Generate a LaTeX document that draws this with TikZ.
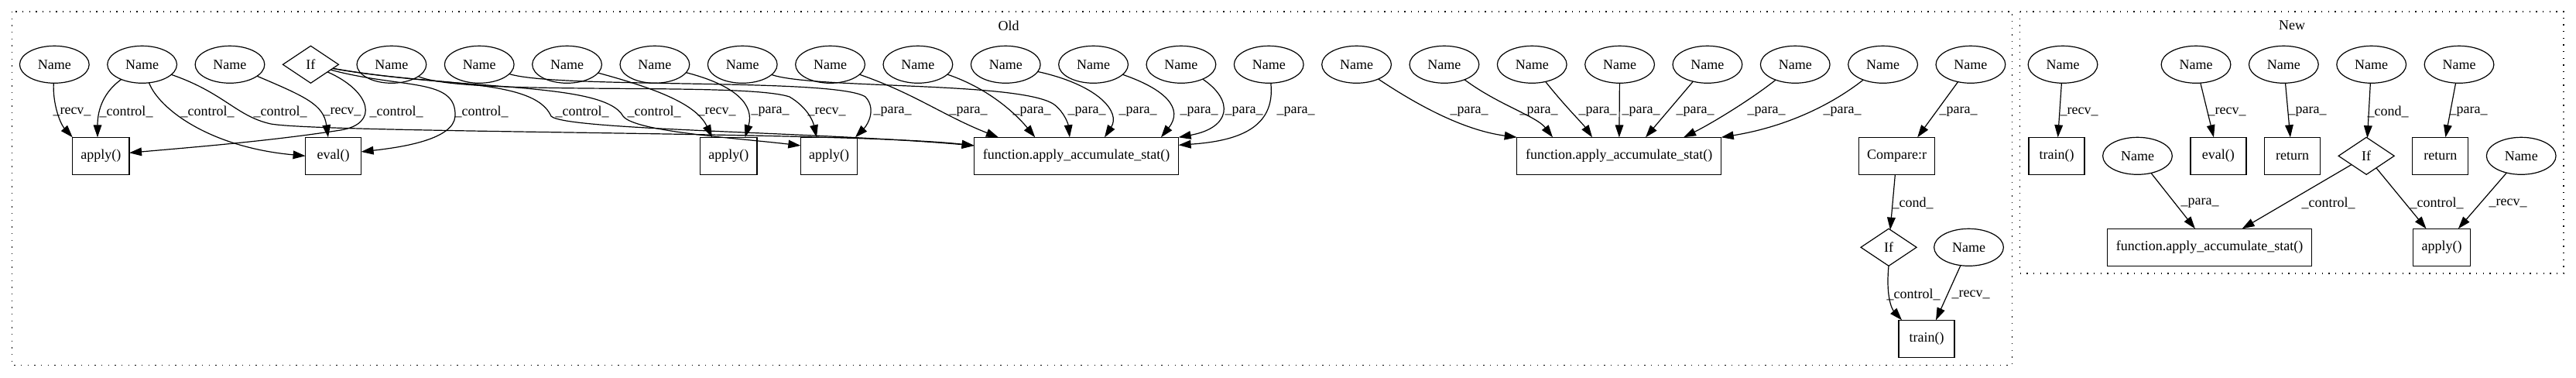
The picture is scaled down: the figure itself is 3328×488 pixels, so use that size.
\documentclass[tikz,border=0pt]{standalone}
\usepackage{fontspec}
\setmainfont{Liberation Serif}
\usetikzlibrary{positioning, arrows.meta, shapes.geometric}

\begin{document}
\begin{tikzpicture}
    [
        x=0.75pt, y=-0.75pt, % pixel grid, y runs down
        node distance=17.7pt and 17.7pt,
        font=\fontsize{13.5pt}{16pt}\selectfont,
        namenode/.style={draw, ellipse, minimum width=67.3pt, minimum height=36pt, inner sep=0pt, outer sep=0pt, line width=0.9pt},
        callbox/.style={draw, rectangle, minimum width=54pt, minimum height=36pt, inner xsep=8pt, inner ysep=0pt, outer sep=0pt, line width=0.9pt},
        funcbox/.style={callbox, minimum width=198pt},
        ifnode/.style={draw, diamond, minimum width=54pt, minimum height=36pt, inner sep=0pt, outer sep=0pt, line width=0.9pt},
        flow/.style={-{Triangle[length=12pt, width=8pt]}, line width=0.9pt},
        edgelabel/.style={inner sep=0pt},
        cluster/.style={dash pattern=on 1pt off 5.5pt, line width=0.9pt}
    ]
        \useasboundingbox (0,0) rectangle (3328,488);
        % =========================================================================
        % CLUSTERS
        % =========================================================================
        \draw [cluster] (15.6,15) rectangle (2599.6,471.7);
        \draw [cluster] (2609.6,15) rectangle (3312,353);
        \node (old) at (1303,33) {Old};
        \node (new) at (2961,33) {New};

        % =========================================================================
        % NODES
        % =========================================================================
        % --- Old: top row ---
        \node [namenode] (name1) at (70.3,83.3) {Name};
        \node [namenode, right=of name1] (name2) {Name};
        \node [namenode, right=of name2] (name3) {Name};
        \node [ifnode, right=of name3] (if1) {If};
        \node [namenode, right=of if1] (name4) {Name};
        \node [namenode, right=of name4] (name5) {Name};
        \node [namenode, right=of name5] (name6) {Name};
        \node [namenode, right=of name6] (name7) {Name};
        \node [namenode, right=of name7] (name8) {Name};
        \node [namenode, right=of name8] (name9) {Name};
        \node [namenode, right=of name9] (name10) {Name};
        \node [namenode, right=of name10] (name11) {Name};
        \node [namenode, right=of name11] (name12) {Name};
        \node [namenode, right=of name12] (name13) {Name};
        \node [namenode, right=of name13] (name14) {Name};
        \node [namenode, right=of name14] (name15) {Name};
        \node [namenode, right=of name15] (name16) {Name};
        \node [namenode, right=of name16] (name17) {Name};
        \node [namenode, right=of name17] (name18) {Name};
        \node [namenode, right=of name18] (name19) {Name};
        \node [namenode, right=of name19] (name20) {Name};
        \node [namenode, right=of name20] (name21) {Name};
        \node [namenode, right=of name21] (name22) {Name};
        % --- Old: calls ---
        \node [callbox] (apply1) at (130.4,201.3) {apply()};
        \node [callbox] (eval1) at (430.6,201.3) {eval()};
        \node [callbox] (apply2) at (941.3,201.3) {apply()};
        \node [callbox] (apply3) at (1071,201.3) {apply()};
        \node [funcbox] (func1) at (1390.6,201.3) {function.apply\_accumulate\_stat()};
        \node [funcbox] (func2) at (2091.7,201.3) {function.apply\_accumulate\_stat()};
        \node [callbox] (cmp1) at (2450.5,201.3) {Compare:r};
        % --- Old: lower part ---
        \node [ifnode] (if2) at (2440,319.3) {If};
        \node [namenode] (name23) at (2543.5,319.3) {Name};
        \node [callbox] (train1) at (2489,437.3) {train()};
        % --- New: top row ---
        \node [namenode] (name24) at (2665,83.3) {Name};
        \node [namenode] (name25) at (2837,83.3) {Name};
        \node [namenode, right=of name25] (name26) {Name};
        \node [namenode, right=of name26] (name27) {Name};
        \node [namenode, right=of name27] (name28) {Name};
        % --- New: middle row ---
        \node [callbox] (train2) at (2657,201.3) {train()};
        \node [namenode, right=of train2] (name29) {Name};
        \node [callbox, right=of name29] (eval2) {eval()};
        \node [callbox, right=of eval2] (ret1) {return};
        \node [ifnode, right=of ret1] (if3) {If};
        \node [callbox, right=of if3] (ret2) {return};
        \node [namenode, right=of ret2] (name30) {Name};
        % --- New: bottom row ---
        \node [funcbox] (func3) at (2854.6,319.3) {function.apply\_accumulate\_stat()};
        \node [callbox] (apply4) at (3154.5,319.3) {apply()};

        % =========================================================================
        % PATHS
        % =========================================================================
        % --- Old: into apply1 / eval1 ---
        \draw [flow] (name1) .. controls (68,135) and (78,160) .. (apply1.north west)
            node [edgelabel, at={(93,144)}] {\_recv\_};
        \draw [flow] (name2) .. controls (135,118) and (126,140) .. ([xshift=-3.3pt]apply1.north)
            node [edgelabel, at={(163,144)}] {\_control\_};
        \draw [flow] (name2) .. controls (205,140) and (270,190) .. (eval1.west)
            node [edgelabel, at={(268,144)}] {\_control\_};
        \draw [flow] (name3) .. controls (395,125) and (418,135) .. ([xshift=-5pt]eval1.north)
            node [edgelabel, at={(442,144)}] {\_recv\_};
        \draw [flow] (if1) .. controls (480,118) and (490,160) .. (440,168)
            .. controls (350,182) and (250,190) .. ([yshift=3pt]apply1.east)
            node [edgelabel, at={(512,144)}] {\_control\_};
        \draw [flow] (if1) .. controls (520,115) and (590,100) .. (588,150)
            .. controls (586,180) and (520,190) .. ([yshift=4pt]eval1.east)
            node [edgelabel, at={(622,144)}] {\_control\_};
        % --- Old: long control edges ---
        \draw [flow] (name2) .. controls (290,120) and (305,150) .. (350,160)
            .. controls (420,172) and (1100,170) .. ([yshift=10pt]func1.west)
            node [edgelabel, at={(362,144)}] {\_control\_};
        \draw [flow] (if1) .. controls (560,112) and (690,100) .. (712,150)
            .. controls (730,168) and (1050,170) .. ([yshift=10pt]func1.west)
            node [edgelabel, at={(752,144)}] {\_control\_};
        \draw [flow] (if1) .. controls (600,118) and (780,105) .. (805,150)
            .. controls (820,170) and (950,178) .. ([yshift=10pt]apply3.west)
            node [edgelabel, at={(845,144)}] {\_control\_};
        % --- Old: into apply2 / apply3 ---
        \draw [flow] (name4) .. controls (600,125) and (960,105) .. (1020,125)
            .. controls (1042,138) and (1050,155) .. ([xshift=-12pt]apply3.north)
            node [edgelabel, at={(1068,144)}] {\_recv\_};
        \draw [flow] (name5) .. controls (720,115) and (1080,100) .. (1118,125)
            .. controls (1132,140) and (1122,160) .. ([xshift=-2pt]apply3.north east)
            node [edgelabel, at={(1153,144)}] {\_para\_};
        \draw [flow] (name6) .. controls (850,115) and (900,135) .. ([xshift=-16pt]apply2.north)
            node [edgelabel, at={(926,144)}] {\_recv\_};
        \draw [flow] (name7) .. controls (950,110) and (975,135) .. ([xshift=16pt]apply2.north)
            node [edgelabel, at={(995,144)}] {\_para\_};
        % --- Old: into func1 ---
        \draw [flow] (name8) .. controls (1050,115) and (1320,105) .. (1362,135)
            .. controls (1375,145) and (1380,160) .. ([xshift=-6.5pt]func1.north)
            node [edgelabel, at={(1404,144)}] {\_para\_};
        \draw [flow] (name9) .. controls (1180,120) and (1220,150) .. ([xshift=-75.5pt]func1.north)
            node [edgelabel, at={(1251,144)}] {\_para\_};
        \draw [flow] (name10) .. controls (1280,115) and (1315,150) .. ([xshift=-40pt]func1.north)
            node [edgelabel, at={(1333,144)}] {\_para\_};
        \draw [flow] (name11) .. controls (1420,110) and (1448,145) .. ([xshift=27.3pt]func1.north)
            node [edgelabel, at={(1470,144)}] {\_para\_};
        \draw [flow] (name12) .. controls (1505,115) and (1530,140) .. ([xshift=82pt]func1.north)
            node [edgelabel, at={(1549,144)}] {\_para\_};
        \draw [flow] (name13) .. controls (1595,130) and (1590,165) .. (func1.north east)
            node [edgelabel, at={(1607,144)}] {\_para\_};
        \draw [flow] (name14) .. controls (1648,165) and (1600,182) .. ([yshift=10.5pt]func1.east)
            node [edgelabel, at={(1674,144)}] {\_para\_};
        % --- Old: into func2 ---
        \draw [flow] (name15) .. controls (1830,135) and (1890,168) .. (func2.north west)
            node [edgelabel, at={(1898,144)}] {\_para\_};
        \draw [flow] (name16) .. controls (1935,135) and (1985,150) .. ([xshift=-64.3pt]func2.north)
            node [edgelabel, at={(1988,144)}] {\_para\_};
        \draw [flow] (name17) .. controls (2020,135) and (2045,160) .. ([xshift=-26pt]func2.north)
            node [edgelabel, at={(2064,144)}] {\_para\_};
        \draw [flow] (name18) -- (func2)
            node [edgelabel, at={(2120,144)}] {\_para\_};
        \draw [flow] (name19) -- ([xshift=25.7pt]func2.north)
            node [edgelabel, at={(2190,144)}] {\_para\_};
        \draw [flow] (name20) .. controls (2260,130) and (2210,160) .. ([xshift=62.5pt]func2.north)
            node [edgelabel, at={(2282,144)}] {\_para\_};
        \draw [flow] (name21) .. controls (2360,140) and (2300,165) .. (func2.north east)
            node [edgelabel, at={(2380,144)}] {\_para\_};
        % --- Old: compare / train ---
        \draw [flow] (name22) -- ([xshift=20pt]cmp1.north)
            node [edgelabel, at={(2530,144)}] {\_para\_};
        \draw [flow] (cmp1) -- (if2)
            node [edgelabel, at={(2471,262)}] {\_cond\_};
        \draw [flow] (if2.south) .. controls (2436,385) and (2445,400) .. ([xshift=-24pt]train1.north)
            node [edgelabel, at={(2472,380)}] {\_control\_};
        \draw [flow] (name23) -- ([xshift=9pt]train1.north)
            node [edgelabel, at={(2546,380)}] {\_recv\_};
        % --- New ---
        \draw [flow] (name24) -- (train2)
            node [edgelabel, at={(2686,144)}] {\_recv\_};
        \draw [flow] (name25) -- ([xshift=-4.5pt]eval2.north)
            node [edgelabel, at={(2877,144)}] {\_recv\_};
        \draw [flow] (name26) -- ([xshift=-2pt]ret1.north)
            node [edgelabel, at={(2981,144)}] {\_para\_};
        \draw [flow] (name27) -- (if3)
            node [edgelabel, at={(3085,144)}] {\_cond\_};
        \draw [flow] (name28) -- ([xshift=5pt]ret2.north)
            node [edgelabel, at={(3189,144)}] {\_para\_};
        \draw [flow] (name29) -- ([xshift=-14pt]func3.north)
            node [edgelabel, at={(2842,262)}] {\_para\_};
        \draw [flow] (if3) -- ([xshift=31.5pt]func3.north)
            node [edgelabel, at={(3008,262)}] {\_control\_};
        \draw [flow] (if3) -- ([xshift=-15pt]apply4.north)
            node [edgelabel, at={(3148,262)}] {\_control\_};
        \draw [flow] (name30) -- ([xshift=16pt]apply4.north)
            node [edgelabel, at={(3240,262)}] {\_recv\_};

    \end{tikzpicture}
\end{document}
